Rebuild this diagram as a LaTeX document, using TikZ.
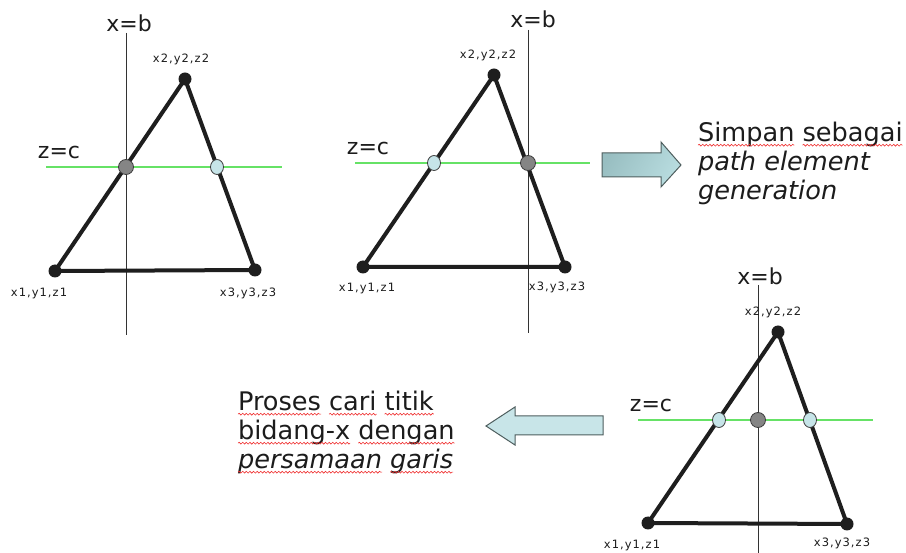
\documentclass[tikz,border=0pt]{standalone}
\usepackage{fontspec}
\setmainfont{DejaVu Sans}
\newfontfamily\lblfont[LetterSpace=9]{DejaVu Sans}
\usetikzlibrary{shapes.geometric,decorations.pathmorphing}
\definecolor{triline}{HTML}{1E1E1E}
\definecolor{ptgray}{HTML}{858585}
\definecolor{ptblue}{HTML}{C6E4E8}
\definecolor{ptedge}{HTML}{3C3C3C}
\definecolor{axisc}{HTML}{333333}
\definecolor{zgreen}{HTML}{66E266}
\definecolor{txt}{HTML}{1C1C1C}
\definecolor{squig}{HTML}{F03030}
\definecolor{arrAleft}{HTML}{98BEC1}
\definecolor{arrAright}{HTML}{B8DCDF}
\definecolor{arrBfill}{HTML}{C8E5E8}
\definecolor{arrdraw}{HTML}{4E5E5E}
\tikzset{
  tri/.style={line width=4pt, draw=triline, line join=round, line cap=round},
  vdot/.style={circle, fill=triline, inner sep=0pt, minimum size=13pt},
  gdot/.style={circle, fill=ptgray, draw=ptedge, line width=0.8pt, inner sep=0pt, minimum size=15pt},
  bdot/.style={ellipse, fill=ptblue, draw=ptedge, line width=0.8pt, inner sep=0pt, minimum width=13pt, minimum height=15pt},
  axisline/.style={draw=axisc, line width=1pt},
  zline/.style={draw=zgreen, line width=1.3pt},
  big/.style={font=\fontsize{22}{26}\selectfont, text=txt, inner sep=0pt, anchor=base},
  small/.style={font=\lblfont\fontsize{11.5}{13}\selectfont, text=txt, inner sep=0pt, anchor=base},
  body/.style={font=\fontsize{25.6}{29}\selectfont, text=txt, inner sep=0pt, outer sep=0pt, anchor=base west},
  bodyit/.style={body, font=\fontsize{25.6}{29}\selectfont\itshape},
  squiggle/.style={draw=squig, line width=0.6pt, decorate, decoration={snake, amplitude=0.9pt, segment length=3.6pt}},
  blockA/.style={left color=arrAleft, right color=arrAright, shading angle=60, draw=arrdraw, line width=1pt, line join=miter},
  blockB/.style={fill=arrBfill, draw=arrdraw, line width=1pt, line join=miter}
}
\newcommand\wsp{8.1pt}
\begin{document}
\begin{tikzpicture}[x=1pt,y=-1pt]
\useasboundingbox[fill=white] (0,0) rectangle (906,553);

% ---------- Triangle 1 ----------
\coordinate (a1) at (55,271);
\coordinate (b1) at (185,79);
\coordinate (c1) at (255,270);
\coordinate (ax1t) at (126,33);
\coordinate (ax1b) at (126,335);
\coordinate (zl1l) at (46,167);
\coordinate (zl1r) at (282,167);
\draw[axisline] (ax1t) -- (ax1b);
\draw[zline] (zl1l) -- (zl1r);
\draw[tri] (a1) -- (b1) -- (c1) -- cycle;
\node[vdot] (d1a) at (a1) {};
\node[vdot] (d1b) at (b1) {};
\node[vdot] (d1c) at (c1) {};
\node[gdot] (g1) at (126,167) {};
\node[bdot] (q1) at (217,167) {};
\node[big] (xb1) at (129,32) {x=b};
\node[big] (zc1) at (59,159) {z=c};
\node[small] (l1b) at (181,63) {x2,y2,z2};
\node[small] (l1a) at (39,297) {x1,y1,z1};
\node[small] (l1c) at (248,297) {x3,y3,z3};

% ---------- Triangle 2 ----------
\coordinate (a2) at (363,267);
\coordinate (b2) at (494,75);
\coordinate (c2) at (565,267);
\coordinate (ax2t) at (528,30);
\coordinate (ax2b) at (528,333);
\coordinate (zl2l) at (355,163);
\coordinate (zl2r) at (590,163);
\draw[axisline] (ax2t) -- (ax2b);
\draw[zline] (zl2l) -- (zl2r);
\draw[tri] (a2) -- (b2) -- (c2) -- cycle;
\node[vdot] (d2a) at (a2) {};
\node[vdot] (d2b) at (b2) {};
\node[vdot] (d2c) at (c2) {};
\node[bdot] (q2) at (434,163) {};
\node[gdot] (g2) at (528,163) {};
\node[big] (xb2) at (533,28) {x=b};
\node[big] (zc2) at (368,155) {z=c};
\node[small] (l2b) at (488,59) {x2,y2,z2};
\node[small] (l2a) at (367,292) {x1,y1,z1};
\node[small] (l2c) at (557,291) {x3,y3,z3};

% ---------- Triangle 3 ----------
\coordinate (a3) at (648,523);
\coordinate (b3) at (778,332);
\coordinate (c3) at (847,524);
\coordinate (ax3t) at (758,285);
\coordinate (ax3b) at (758,553);
\coordinate (zl3l) at (638,420);
\coordinate (zl3r) at (873,420);
\draw[axisline] (ax3t) -- (ax3b);
\draw[zline] (zl3l) -- (zl3r);
\draw[tri] (a3) -- (b3) -- (c3) -- cycle;
\node[vdot] (d3a) at (a3) {};
\node[vdot] (d3b) at (b3) {};
\node[vdot] (d3c) at (c3) {};
\node[bdot] (q3a) at (719,420) {};
\node[gdot] (g3) at (758,420) {};
\node[bdot] (q3b) at (810,420) {};
\node[big] (xb3) at (760,285) {x=b};
\node[big] (zc3) at (651,412) {z=c};
\node[small] (l3b) at (773,316) {x2,y2,z2};
\node[small] (l3a) at (632,548) {x1,y1,z1};
\node[small] (l3c) at (842,547) {x3,y3,z3};

% ---------- Block arrows ----------
\draw[blockA] (602,153) -- (661,153) -- (661,142) -- (681,165) -- (661,187) -- (661,177) -- (602,177) -- cycle;
\draw[blockB] (603,416) -- (515,416) -- (515,407) -- (486,426) -- (515,445) -- (515,435) -- (603,435) -- cycle;

% ---------- Texts (right) ----------
\node[body] (s1a) at (698,142) {Simpan};
\node[body] (s1b) at ([xshift=\wsp]s1a.base east) {sebagai};
\node[bodyit] (s2) at (698,171) {path element};
\node[bodyit] (s3) at (698,200) {generation};

% ---------- Texts (left) ----------
\node[body] (p1a) at (238,411) {Proses};
\node[body] (p1b) at ([xshift=\wsp]p1a.base east) {cari};
\node[body] (p1c) at ([xshift=\wsp]p1b.base east) {titik};
\node[body] (p2a) at (238,440) {bidang-x};
\node[body] (p2b) at ([xshift=\wsp]p2a.base east) {dengan};
\node[bodyit] (p3a) at (238,469) {persamaan};
\node[bodyit] (p3b) at ([xshift=\wsp]p3a.base east) {garis};

% ---------- spell-check squiggles ----------
\foreach \w in {s1a,s1b,p1a,p1b,p1c,p2a,p2b,p3a,p3b}{
  \draw[squiggle] ([yshift=-3.2pt]\w.base west) -- ([yshift=-3.2pt]\w.base east);
}
\end{tikzpicture}
\end{document}
